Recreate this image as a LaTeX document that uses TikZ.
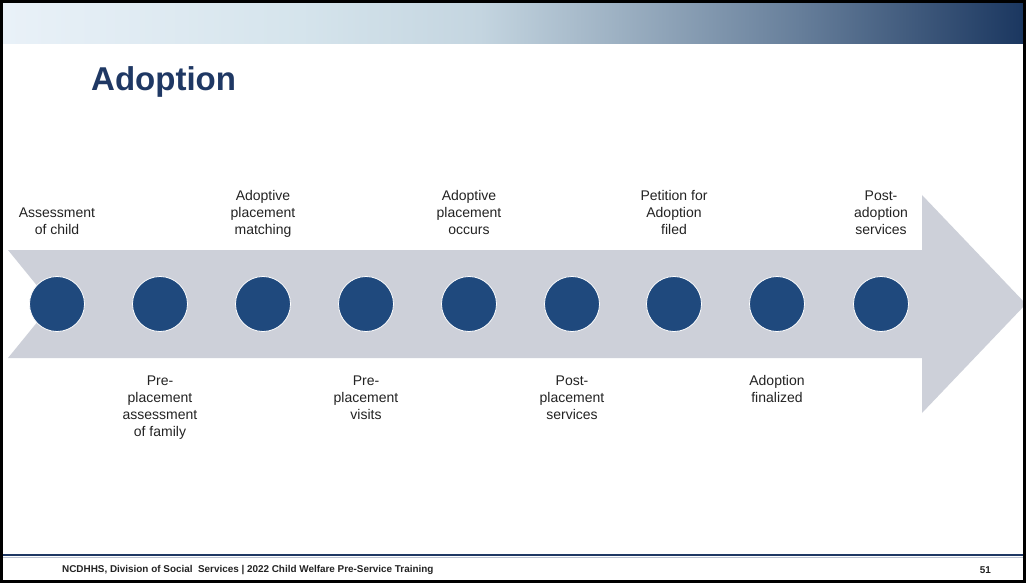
\documentclass[tikz,border=0pt]{standalone}
\usepackage{fontspec}
\setmainfont{Liberation Sans}
\definecolor{navy}{RGB}{31,56,100}
\definecolor{dotblue}{RGB}{31,73,125}
\definecolor{arrowgray}{RGB}{205,208,217}
\definecolor{labeltext}{RGB}{35,35,35}
\definecolor{g0}{RGB}{233,241,248}
\definecolor{g1}{RGB}{213,228,236}
\definecolor{g2}{RGB}{196,213,224}
\definecolor{g3}{RGB}{156,176,194}
\definecolor{g4}{RGB}{102,126,154}
\definecolor{g5}{RGB}{27,55,96}
\begin{document}
\begin{tikzpicture}[x=1pt,y=-1pt,
  dot/.style={circle,fill=dotblue,draw=white,line width=0.8pt,minimum size=55pt,inner sep=0pt},
  toplabel/.style={anchor=south,align=center,inner sep=0pt,text depth=3.5pt,text=labeltext,font=\fontsize{14}{17}\selectfont},
  botlabel/.style={anchor=north,align=center,inner sep=0pt,text=labeltext,font=\fontsize{14}{17}\selectfont},
  footer/.style={inner sep=0pt,text=labeltext,font=\fontsize{9.9}{11}\selectfont\bfseries}]
\useasboundingbox (0,0) rectangle (1026,583);
\fill[white] (0,0) rectangle (1026,583);
% top gradient band
\shade[left color=g0,right color=g1] (3,4) rectangle (300.5,44);
\shade[left color=g1,right color=g2] (300,4) rectangle (480.5,44);
\shade[left color=g2,right color=g3] (480,4) rectangle (620.5,44);
\shade[left color=g3,right color=g4] (620,4) rectangle (800.5,44);
\shade[left color=g4,right color=g5] (800,4) rectangle (1023,44);
% title
\node[anchor=base west,inner sep=0pt,text=navy,font=\fontsize{33}{39}\selectfont\bfseries] (title) at (91,91) {Adoption};
% arrow
\fill[arrowgray] (8,250) -- (922,250) -- (922,195) -- (1026,304) -- (922,413) -- (922,358) -- (8,358) -- (52,304) -- cycle;
% dots
\foreach \i/\x in {1/57,2/160,3/263,4/366,5/469,6/572,7/674,8/777,9/881}{
  \node[dot] (c\i) at (\x,304) {};
}
% labels
\node[toplabel] (l1) at ([yshift=37.5pt]c1.north) {Assessment\\of child};
\node[botlabel] (l2) at ([yshift=-43.5pt]c2.south) {Pre-\\placement\\assessment\\of family};
\node[toplabel] (l3) at ([yshift=37.5pt]c3.north) {Adoptive\\placement\\matching};
\node[botlabel] (l4) at ([yshift=-43.5pt]c4.south) {Pre-\\placement\\visits};
\node[toplabel] (l5) at ([yshift=37.5pt]c5.north) {Adoptive\\placement\\occurs};
\node[botlabel] (l6) at ([yshift=-43.5pt]c6.south) {Post-\\placement\\services};
\node[toplabel] (l7) at ([yshift=37.5pt]c7.north) {Petition for\\Adoption\\filed};
\node[botlabel] (l8) at ([yshift=-43.5pt]c8.south) {Adoption\\finalized};
\node[toplabel] (l9) at ([yshift=37.5pt]c9.north) {Post-\\adoption\\services};
% footer
\draw[navy,line width=1.5pt] (3,555) -- (1023,555);
\draw[navy!30,line width=0.8pt] (3,557) -- (1023,557);
\node[footer,anchor=west] (foot) at (62,570) {NCDHHS, Division of Social\ \ Services | 2022 Child Welfare Pre-Service Training};
\node[footer,anchor=east] (page) at (991,570) {51};
% frame
\draw[black,line width=3pt] (1.5,1.5) rectangle (1024.5,581.5);
\end{tikzpicture}
\end{document}
